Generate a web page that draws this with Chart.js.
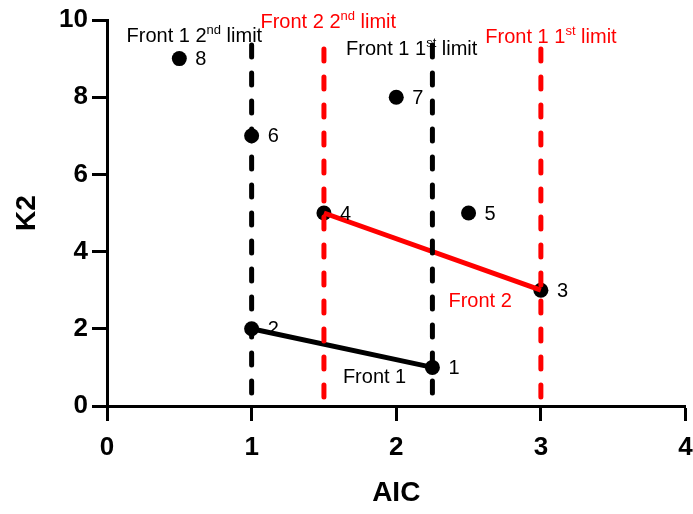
<!DOCTYPE html>
<html>
<head>
<meta charset="utf-8">
<script src="https://cdn.jsdelivr.net/npm/chart.js@4.4.1/dist/chart.umd.min.js"></script>
<style>
  html, body { margin: 0; padding: 0; background: #fff; }
</style>
</head>
<body>
<canvas id="aicChart" width="693" height="514"></canvas>
<script>
// points
const pointIds = ["1", "2", "3", "4", "5", "6", "7", "8"];
const aicValues = [2.25, 1, 3, 1.5, 2.5, 1, 2, 0.5];
const k2Values = [1, 2, 3, 5, 5, 7, 8, 9];

// fronts join these points
const front1Ids = ["2", "1"];
const front2Ids = ["4", "3"];

// limit lines (1st, 2nd)
const front1Limits = [2.25, 1];
const front2Limits = [3, 1.5];
const limitTops = [9.35, 9.25];

const xTicks = [0, 1, 2, 3, 4];
const yTicks = [0, 2, 4, 6, 8, 10];

const FONT = "'Liberation Sans', Arial, sans-serif";
Chart.defaults.font.family = FONT;

const pointOf = (id) => {
    const i = pointIds.indexOf(id);
    return { x: aicValues[i], y: k2Values[i] };
};

const limitLine = (x, top, color) => ({
    type: "line",
    data: [{ x: x, y: top }, { x: x, y: 0 }],
    borderColor: color,
    borderWidth: 5,
    borderDash: [12, 16],
    borderCapStyle: "round",
    pointRadius: 0,
    showLine: true,
    order: 0,
});

const frontLine = (ids, color) => ({
    type: "line",
    data: ids.map(pointOf),
    borderColor: color,
    borderWidth: 5,
    pointRadius: 0,
    showLine: true,
    order: 1,
});

// text drawn on top of the chart
const annotations = {
    id: "annotations",
    afterDatasetsDraw(chart) {
        const { ctx } = chart;
        const xs = chart.scales.x;
        const ys = chart.scales.y;
        ctx.save();
        ctx.textBaseline = "middle";
        ctx.textAlign = "left";
        ctx.fillStyle = "#000";
        ctx.font = "20px " + FONT;
        pointIds.forEach((id, i) => {
            ctx.fillText(id, xs.getPixelForValue(aicValues[i]) + 16, ys.getPixelForValue(k2Values[i]) + 1);
        });

        ctx.textAlign = "center";
        ctx.fillText("Front 1", xs.getPixelForValue(1.85), ys.getPixelForValue(0.73));
        ctx.fillStyle = "#ff0000";
        ctx.fillText("Front 2", xs.getPixelForValue(2.58), ys.getPixelForValue(2.72));

        // limit labels with superscripts
        const sup = (parts, ax, ay, color) => {
            ctx.fillStyle = color;
            ctx.textAlign = "left";
            ctx.textBaseline = "alphabetic";
            const big = "20px " + FONT;
            const small = "13px " + FONT;
            ctx.font = big;
            const w0 = ctx.measureText(parts[0]).width;
            const w2 = ctx.measureText(parts[2]).width;
            ctx.font = small;
            const w1 = ctx.measureText(parts[1]).width;
            let cx = xs.getPixelForValue(ax) - (w0 + w1 + w2) / 2;
            const by = ys.getPixelForValue(ay);
            ctx.font = big;
            ctx.fillText(parts[0], cx, by);
            cx += w0;
            ctx.font = small;
            ctx.fillText(parts[1], cx, by - 8);
            cx += w1;
            ctx.font = big;
            ctx.fillText(parts[2], cx, by);
        };
        sup(["Front 1 2", "nd", " limit"], 0.604, 9.43, "#000");
        sup(["Front 2 2", "nd", " limit"], 1.53, 9.79, "#ff0000");
        sup(["Front 1 1", "st", " limit"], 2.107, 9.09, "#000");
        sup(["Front 1 1", "st", " limit"], 3.07, 9.40, "#ff0000");
        ctx.restore();
    },
};

const axisStyle = {
    grid: { drawOnChartArea: false, drawTicks: true, tickLength: 15, tickWidth: 3, tickColor: "#000" },
    border: { display: true, color: "#000", width: 3 },
};

const aicChart = new Chart("aicChart", {
    type: "scatter",
    data: {
        datasets: [
            limitLine(front1Limits[0], limitTops[0], "#000"),
            limitLine(front1Limits[1], limitTops[0], "#000"),
            limitLine(front2Limits[0], limitTops[1], "#ff0000"),
            limitLine(front2Limits[1], limitTops[1], "#ff0000"),
            frontLine(front1Ids, "#000"),
            frontLine(front2Ids, "#ff0000"),
            {
                data: aicValues.map((v, i) => ({ x: v, y: k2Values[i] })),
                backgroundColor: "#000",
                borderWidth: 0,
                pointRadius: 7.5,
                order: 2,
            },
        ],
    },
    options: {
        responsive: false,
        animation: false,
        layout: { padding: { top: 20, right: 7, left: 0, bottom: 0 } },
        plugins: { legend: { display: false }, tooltip: { enabled: false } },
        scales: {
            x: {
                type: "linear",
                min: 0,
                max: 4,
                afterBuildTicks: (s) => { s.ticks = xTicks.map((v) => ({ value: v })); },
                afterFit: (s) => { s.height = 108; s.paddingLeft = 0; s.paddingRight = 0; },
                ticks: { color: "#000", font: { size: 26, weight: "bold" }, padding: 11 },
                title: { display: true, text: "AIC", color: "#000", font: { size: 28, weight: "bold" }, padding: { top: 0, bottom: 4 } },
                ...axisStyle,
            },
            y: {
                type: "linear",
                min: 0,
                max: 10,
                afterBuildTicks: (s) => { s.ticks = yTicks.map((v) => ({ value: v })); },
                afterFit: (s) => { s.width = 107; s.paddingTop = 0; s.paddingBottom = 0; },
                ticks: { color: "#000", font: { size: 26, weight: "bold" }, padding: 4 },
                title: { display: true, text: "K2", color: "#000", font: { size: 28, weight: "bold" }, padding: { top: 10, bottom: 0 } },
                ...axisStyle,
            },
        },
    },
    plugins: [annotations],
});
</script>
</body>
</html>
